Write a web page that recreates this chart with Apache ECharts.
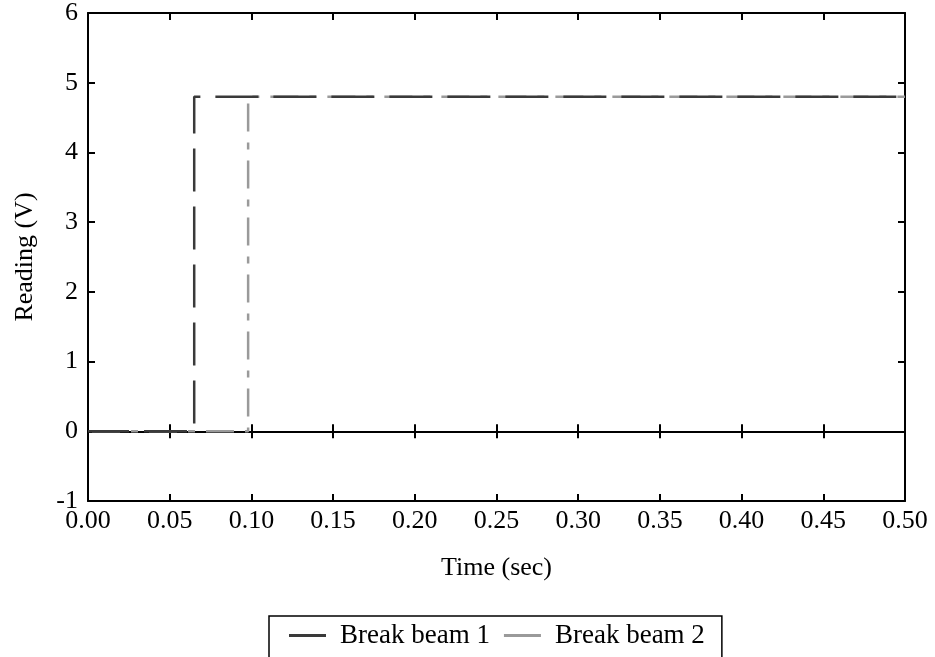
<!DOCTYPE html>
<html>
<head>
<meta charset="utf-8">
<script src="https://cdn.jsdelivr.net/npm/echarts@6/dist/echarts.min.js"></script>
<style>
	html, body { margin: 0; padding: 0; background: #fff; }
	#chart { width: 935px; height: 657px; }
</style>
</head>
<body>
<div id="chart"></div>
<script>
// beam readings (sec, V)
const beam1Time = [0, 0.065, 0.065, 0.5]
const beam1Reading = [0, 0, 4.8, 4.8]
const beam2Time = [0, 0.098, 0.098, 0.5]
const beam2Reading = [0, 0, 4.8, 4.8]
const seriesNames = ['Break beam 1', 'Break beam 2']

const FONT = 'Liberation Serif'
const FS = 26

const toPairs = (xs, ys) => xs.map((x, i) => [x, ys[i]])

// helper for the plain border axes
const frameAxis = (extra) => Object.assign({
	type: 'value',
	splitLine: { show: false },
	axisLine: { show: true, onZero: false, lineStyle: { color: '#000', width: 2 } },
	axisTick: { show: true, inside: true, length: 7, lineStyle: { color: '#000', width: 2 } },
	axisLabel: { show: false }
}, extra)

const xRange = { min: 0, max: 0.5, interval: 0.05 }
const yRange = { min: -1, max: 6, interval: 1 }

const options = {
	animation: false,
	backgroundColor: '#fff',
	textStyle: { fontFamily: FONT },
	grid: { left: 88, right: 30, top: 13, bottom: 156 },
	legend: {
		left: 269,
		top: 616,
		padding: [6, 17, 30, 20],
		borderColor: '#000',
		borderWidth: 1.5,
		itemWidth: 37,
		itemHeight: 3,
		itemGap: 14,
		icon: 'rect',
		textStyle: { fontFamily: FONT, fontSize: 27, color: '#000', padding: [0, 0, 0, 9] },
		data: [
			{ name: seriesNames[0], itemStyle: { color: '#3a3a3a' } },
			{ name: seriesNames[1], itemStyle: { color: '#9a9a9a' } }
		]
	},
	xAxis: [
		frameAxis(Object.assign({
			position: 'bottom',
			name: 'Time (sec)',
			nameLocation: 'middle',
			nameGap: 54,
			nameTextStyle: { fontFamily: FONT, fontSize: FS, color: '#000' },
			axisLabel: {
				show: true,
				margin: 7,
				fontFamily: FONT,
				fontSize: FS,
				color: '#000',
				formatter: v => v.toFixed(2)
			}
		}, xRange)),
		frameAxis(Object.assign({ position: 'top' }, xRange)),
		// zero line, ticks crossing both ways
		Object.assign({
			type: 'value',
			position: 'bottom',
			splitLine: { show: false },
			axisLine: { show: true, onZero: true, onZeroAxisIndex: 0, lineStyle: { color: '#000', width: 2 } },
			axisTick: { show: true, inside: true, length: 7, lineStyle: { color: '#000', width: 2 } },
			axisLabel: { show: false }
		}, xRange),
		Object.assign({
			type: 'value',
			position: 'bottom',
			splitLine: { show: false },
			axisLine: { show: false, onZero: true, onZeroAxisIndex: 0 },
			axisTick: { show: true, inside: false, length: 7, lineStyle: { color: '#000', width: 2 } },
			axisLabel: { show: false }
		}, xRange)
	],
	yAxis: [
		frameAxis(Object.assign({
			position: 'left',
			name: 'Reading (V)',
			nameLocation: 'middle',
			nameGap: 50,
			nameTextStyle: { fontFamily: FONT, fontSize: FS, color: '#000' },
			axisLabel: { show: true, margin: 10, fontFamily: FONT, fontSize: FS, color: '#000' }
		}, yRange)),
		frameAxis(Object.assign({ position: 'right' }, yRange))
	],
	series: [
		{
			name: seriesNames[0],
			type: 'line',
			z: 4,
			symbol: 'none',
			xAxisIndex: 0,
			yAxisIndex: 0,
			data: toPairs(beam1Time, beam1Reading),
			lineStyle: { color: '#3a3a3a', width: 2.5, type: [43, 15], dashOffset: 2 },
			itemStyle: { color: '#3a3a3a' }
		},
		{
			name: seriesNames[1],
			type: 'line',
			z: 3,
			symbol: 'none',
			xAxisIndex: 0,
			yAxisIndex: 0,
			data: toPairs(beam2Time, beam2Reading),
			lineStyle: { color: '#9a9a9a', width: 2.5, type: [28, 11, 7, 11], dashOffset: 53 },
			itemStyle: { color: '#9a9a9a' }
		}
	]
}

echarts.init(document.getElementById('chart')).setOption(options)
</script>
</body>
</html>
